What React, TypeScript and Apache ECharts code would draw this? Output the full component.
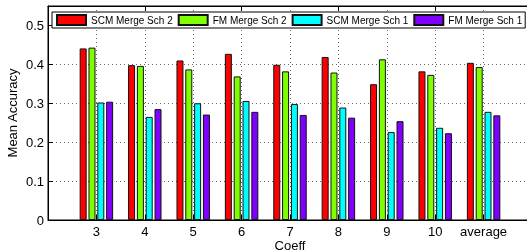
import React, { useEffect, useRef } from "react";
import * as echarts from "echarts";

const categories = ["", "3", "4", "5", "6", "7", "8", "9", "10", "average", ""];
const seriesNames = ["SCM Merge Sch 2", "FM Merge Sch 2", "SCM Merge Sch 1", "FM Merge Sch 1"];
const scmSch2 = [null, 0.441, 0.398, 0.41, 0.427, 0.399, 0.419, 0.349, 0.382, 0.404, null];
const fmSch2 = [null, 0.443, 0.396, 0.387, 0.369, 0.382, 0.379, 0.413, 0.373, 0.393, null];
const scmSch1 = [null, 0.302, 0.265, 0.3, 0.306, 0.298, 0.289, 0.226, 0.237, 0.278, null];
const fmSch1 = [null, 0.304, 0.285, 0.271, 0.278, 0.27, 0.263, 0.254, 0.223, 0.269, null];
const colors = ["#ff0000", "#80ff00", "#00ffff", "#8000ff"];

export default function App() {
  const ref = useRef<HTMLDivElement>(null);
  useEffect(() => {
    document.body.style.margin = "0";
    document.documentElement.style.overflow = "hidden";
    document.body.style.overflow = "hidden";
    if (!ref.current) return;
    const chart = echarts.init(ref.current, null, { renderer: "svg" });
    const font = "Liberation Sans, Arial, Helvetica, sans-serif";
    const values = [scmSch2, fmSch2, scmSch1, fmSch1];
    chart.setOption({
      animation: false,
      textStyle: { fontFamily: font },
      grid: {
        left: 48,
        top: 6,
        right: -5,
        bottom: 32,
        show: true,
        borderColor: "#000",
        borderWidth: 1,
        containLabel: false,
        outerBoundsMode: "none",
      },
      legend: {
        left: 52,
        top: 12,
        width: 500,
        padding: [2, 3, 2, 4],
        itemGap: 5,
        itemWidth: 29,
        itemHeight: 10,
        icon: "rect",
        backgroundColor: "#fff",
        borderColor: "#000",
        borderWidth: 1,
        borderRadius: 0,
        textStyle: { fontSize: 10, color: "#000", fontFamily: font },
        data: seriesNames,
      },
      xAxis: [
        {
          type: "category",
          data: categories,
          boundaryGap: false,
          position: "bottom",
          name: "Coeff",
          nameLocation: "middle",
          nameGap: 19,
          nameMoveOverlap: false,
          nameTextStyle: { fontSize: 13, color: "#000", fontFamily: font },
          axisLine: { show: true, lineStyle: { color: "#000", width: 1 } },
          axisTick: { show: true, inside: true, length: 5, lineStyle: { color: "#000" } },
          axisLabel: { fontSize: 13, color: "#000", margin: 5, interval: 0, fontFamily: font },
          splitLine: { show: true, lineStyle: { color: "#666", type: [1, 3], width: 1 } },
        },
        {
          type: "category",
          data: categories,
          boundaryGap: false,
          position: "top",
          axisLine: { show: true, lineStyle: { color: "#000", width: 1 } },
          axisTick: { show: true, inside: true, length: 5, lineStyle: { color: "#000" } },
          axisLabel: { show: false },
          splitLine: { show: false },
        },
      ],
      yAxis: {
        type: "value",
        min: 0,
        max: 0.55,
        interval: 0.1,
        name: "Mean Accuracy",
        nameLocation: "middle",
        nameGap: 29,
        nameMoveOverlap: false,
        nameTextStyle: { fontSize: 13, color: "#000", fontFamily: font },
        axisLine: { show: true, lineStyle: { color: "#000", width: 1 } },
        axisTick: { show: true, inside: true, length: 5, lineStyle: { color: "#000" } },
        axisLabel: {
          fontSize: 13,
          color: "#000",
          margin: 4,
          fontFamily: font,
          formatter: (v: number) => (v > 0.501 ? "" : v === 0 ? "0" : v.toFixed(1)),
        },
        splitLine: { show: true, lineStyle: { color: "#666", type: [1, 3], width: 1 } },
      },
      series: seriesNames.map((name, i) => ({
        name,
        type: "bar",
        data: values[i],
        barWidth: 7,
        barGap: "26%",
        itemStyle: { color: colors[i], borderColor: "#111", borderWidth: 1 },
      })),
    });
    return () => chart.dispose();
  }, []);
  return <div ref={ref} style={{ position: "fixed", left: 0, top: 0, width: 527, height: 252 }} />;
}
